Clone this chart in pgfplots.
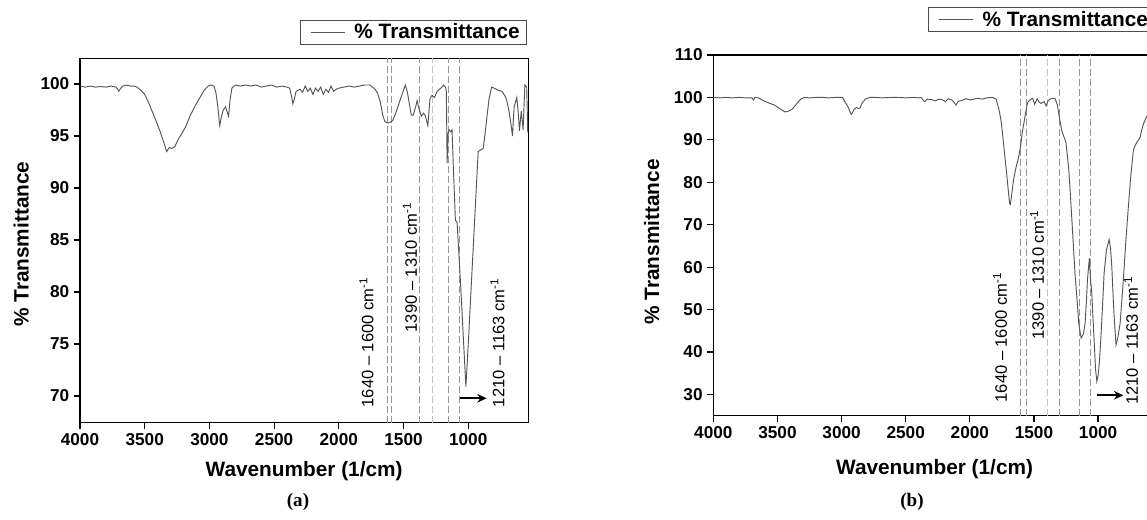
\documentclass[border=0pt]{standalone}
\usepackage{pgfplots}
\pgfplotsset{compat=1.18}
\usetikzlibrary{arrows.meta}
\usepackage{fontspec}
\setmainfont{Liberation Sans}
\newfontfamily\capfont{Liberation Serif}
\definecolor{spec}{RGB}{85,85,85}
\definecolor{dashA}{RGB}{150,150,150}
\definecolor{dashB}{RGB}{195,195,195}

\tikzset{annot/.style={rotate=90, inner sep=0pt, font=\fontsize{12.4}{14}\selectfont}}

\pgfplotsset{
 irstyle/.style={
  scale only axis,
  x dir=reverse,
  xmin=536, xmax=4000,
  xtick={1000,1500,...,4000},
  axis line style={line width=1pt},
  tick style={black, line width=0.9pt},
  tick align=outside,
  tick pos=left,
  major tick length=4.5pt,
  minor tick num=0,
  /pgf/number format/1000 sep={},
  /pgf/number format/assume math mode=true,
  ticklabel style={font=\fontsize{12.9}{15}\selectfont\bfseries},
  xlabel={Wavenumber (1/cm)},
  ylabel={\% Transmittance},
  legend style={draw=black!70, line width=0.6pt, font=\fontsize{15.6}{18}\selectfont\bfseries, inner xsep=3pt, inner ysep=0.5pt, legend cell align=left,
    /tikz/every odd column/.append style={column sep=5pt}},
  legend image code/.code={\path (0pt,0pt); \draw[#1, line width=0.7pt] (4.5pt,0pt) -- (30pt,0pt);},
 },
 dashl/.style={dash pattern=on 5pt off 2.5pt, line width=0.8pt, forget plot},
 arr/.style={-{Stealth[length=7pt,width=6.5pt]}, line width=1.6pt, black, forget plot},
}

\begin{document}
\begin{tikzpicture}
\useasboundingbox (0,0) rectangle (860.25pt,-390pt);

% ---------------- (a) ----------------
\begin{axis}[irstyle,
  at={(60pt,-43.725pt)}, anchor=north west,
  width=336.2pt, height=273.3pt,
  ymin=67.43, ymax=102.47,
  ytick={70,75,...,100},
  every axis x label/.style={at={(axis description cs:0.5,-0.134)}, anchor=center, font=\fontsize{15.6}{18}\selectfont\bfseries},
  every axis y label/.style={at={(axis description cs:-0.131,0.49)}, rotate=90, anchor=center, font=\fontsize{15.6}{18}\selectfont\bfseries},
  legend style={at={(0.9967,1.105)}, anchor=north east},
]
\addplot[dashA, dashl] coordinates {(1626,67.43) (1626,102.47)};
\addplot[dashA, dashl] coordinates {(1592,67.43) (1592,102.47)};
\addplot[dashA, dashl] coordinates {(1378,67.43) (1378,102.47)};
\addplot[dashB, dashl] coordinates {(1278,67.43) (1278,102.47)};
\addplot[dashA, dashl] coordinates {(1154,67.43) (1154,102.47)};
\addplot[dashA, dashl] coordinates {(1064,67.43) (1064,102.47)};

\addplot[spec, line width=0.7pt] coordinates {
(4000,99.8) (3960,99.7) (3920,99.8) (3880,99.7) (3840,99.75) (3800,99.7) (3760,99.8) (3720,99.7)
(3700,99.3) (3690,99.5) (3670,99.8) (3640,99.9) (3610,99.8) (3580,99.8) (3560,99.7) (3530,99.4)
(3500,99.0) (3470,98.2) (3440,97.3) (3410,96.4) (3380,95.4) (3350,94.3) (3330,93.5) (3310,93.9)
(3290,93.8) (3266,94.0) (3240,94.7) (3210,95.3) (3183,95.9) (3150,96.9) (3110,97.9) (3073,98.7)
(3040,99.4) (3010,99.8) (2990,99.9) (2965,99.8) (2950,99.2) (2935,97.8) (2920,96.0) (2908,96.8)
(2893,97.5) (2875,97.8) (2860,97.2) (2852,96.9) (2840,98.5) (2826,99.6) (2800,99.9) (2760,99.8)
(2720,99.9) (2680,99.8) (2640,99.9) (2600,99.7) (2560,99.8) (2520,99.9) (2480,99.7) (2440,99.8)
(2400,99.7) (2380,99.6) (2365,98.8) (2355,98.1) (2345,98.5) (2330,99.3) (2300,99.5) (2280,99.2)
(2260,99.8) (2240,99.3) (2220,99.6) (2200,99.0) (2180,99.6) (2160,99.3) (2140,99.7) (2120,99.0)
(2100,99.5) (2080,99.2) (2060,99.8) (2040,99.3) (2020,99.5) (2000,99.6) (1960,99.7) (1920,99.8)
(1880,99.7) (1840,99.8) (1800,99.9) (1760,99.9) (1740,99.7) (1720,99.5) (1700,99.1) (1680,98.3)
(1660,97.0) (1645,96.4) (1626,96.25) (1605,96.3) (1583,96.5) (1560,97.2) (1528,98.4) (1500,99.4)
(1486,99.9) (1470,99.2) (1459,98.4) (1440,97.0) (1425,97.0) (1404,97.9) (1395,98.4) (1380,97.6)
(1362,96.9) (1345,97.2) (1330,96.9) (1312,96.0) (1295,98.6) (1280,98.9) (1260,98.7) (1240,99.3)
(1211,99.6) (1190,99.9) (1175,99.7) (1169,99.3) (1163,92.4) (1155,95.2) (1147,95.6) (1134,95.4)
(1125,95.6) (1115,92.0) (1099,86.9) (1086,86.7) (1060,81.0) (1031,74.0) (1018,70.9) (1000,74.9)
(974,81.2) (950,87.0) (923,93.5) (900,93.7) (884,93.8) (870,95.2) (858,96.5) (840,98.5) (819,99.7)
(800,99.6) (769,99.4) (740,99.3) (713,98.8) (700,98.3) (685,97.4) (670,96.2) (658,95.0) (650,96.8)
(645,97.8) (625,98.7) (615,97.5) (604,95.5) (590,97.4) (576,95.6) (562,99.9) (548,99.7) (540,95.4) (537,95.4)
};
\addlegendentry{\% Transmittance}

\node[annot] at (axis cs:1786,75.14) {1640 – 1600 cm\textsuperscript{-1}};
\node[annot] at (axis cs:1450,82.36) {1390 – 1310 cm\textsuperscript{-1}};
\node[annot] at (axis cs:774,75.1) {1210 – 1163 cm\textsuperscript{-1}};
\addplot[arr] coordinates {(1064,69.78) (858,69.78)};
\end{axis}

% ---------------- (b) ----------------
\begin{axis}[irstyle,
  at={(535pt,-41.25pt)}, anchor=north west,
  width=333.2pt, height=270.5pt,
  ymin=25, ymax=110,
  ytick={30,40,...,110},
  every axis x label/.style={at={(axis description cs:0.498,-0.149)}, anchor=center, font=\fontsize{15.6}{18}\selectfont\bfseries},
  every axis y label/.style={at={(axis description cs:-0.139,0.4816)}, rotate=90, anchor=center, font=\fontsize{15.6}{18}\selectfont\bfseries},
  legend style={at={(0.4833,1.132)}, anchor=north west},
]
\addplot[dashA, dashl] coordinates {(1606,25) (1606,110)};
\addplot[dashA, dashl] coordinates {(1559,25) (1559,110)};
\addplot[dashB, dashl] coordinates {(1398,25) (1398,110)};
\addplot[dashA, dashl] coordinates {(1302,25) (1302,110)};
\addplot[dashA, dashl] coordinates {(1143,25) (1143,110)};
\addplot[dashA, dashl] coordinates {(1060,25) (1060,110)};

\addplot[spec, line width=0.7pt] coordinates {
(4000,100.0) (3950,99.9) (3900,100.0) (3850,99.9) (3800,100.0) (3750,99.9) (3700,99.9) (3687,99.4)
(3675,100.0) (3650,99.9) (3630,99.6) (3600,99.1) (3560,98.6) (3523,98.2) (3480,97.3) (3442,96.6)
(3420,96.7) (3387,97.2) (3350,98.5) (3319,99.6) (3290,100.0) (3250,99.9) (3200,100.0) (3150,100.0)
(3100,99.9) (3050,100.0) (2992,100.0) (2979,99.2) (2950,97.8) (2925,96.0) (2919,96.2) (2900,97.3)
(2883,97.6) (2870,97.4) (2856,97.5) (2840,98.7) (2815,99.6) (2780,100.0) (2733,100.0) (2680,99.9)
(2620,100.0) (2560,100.0) (2500,99.9) (2440,100.0) (2400,99.9) (2380,100.0) (2360,99.2) (2352,99.0)
(2330,99.6) (2300,99.5) (2270,99.2) (2240,99.6) (2210,99.4) (2190,99.0) (2170,99.7) (2140,99.4)
(2120,98.7) (2108,98.2) (2090,99.1) (2060,99.3) (2030,99.7) (2000,99.4) (1970,99.6) (1940,99.8)
(1900,99.6) (1870,99.9) (1823,100.0) (1795,99.6) (1770,96.8) (1754,94.0) (1735,88.5) (1713,82.1)
(1700,78.0) (1690,75.0) (1684,74.8) (1672,77.5) (1659,80.6) (1640,83.5) (1624,85.3) (1608,87.8)
(1591,91.7) (1570,95.5) (1550,98.8) (1530,99.4) (1510,99.8) (1495,98.4) (1475,99.7) (1460,98.9)
(1445,98.6) (1420,99.0) (1405,98.0) (1390,99.2) (1374,99.6) (1350,99.8) (1335,99.7) (1318,98.3)
(1300,95.0) (1283,92.2) (1265,90.6) (1251,89.5) (1244,87.5) (1230,83.5) (1218,78.1) (1205,71.5)
(1192,64.8) (1180,58.5) (1166,53.1) (1150,46.5) (1132,43.3) (1115,44.2) (1101,46.8) (1090,52.5)
(1083,57.0) (1068,62.1) (1060,57.5) (1049,53.9) (1040,48.0) (1031,42.9) (1020,36.0) (1010,33.1)
(1000,34.5) (990,37.5) (979,42.9) (965,51.0) (953,58.6) (935,64.0) (914,66.5) (903,64.5)
(893,60.1) (884,54.0) (875,48.4) (860,41.7) (845,43.5) (828,46.8) (803,57.0) (785,65.5)
(764,74.2) (745,81.5) (725,87.5) (712,88.6) (698,89.4) (685,90.0) (672,90.6) (660,92.3)
(647,93.7) (630,94.9) (618,95.7) (600,97.0) (580,98.5) (560,99.3) (536,99.6)
};
\addlegendentry{\% Transmittance}

\node[annot] at (axis cs:1764,43.4) {1640 – 1600 cm\textsuperscript{-1}};
\node[annot] at (axis cs:1476,58.2) {1390 – 1310 cm\textsuperscript{-1}};
\node[annot] at (axis cs:743,42.7) {1210 – 1163 cm\textsuperscript{-1}};
\addplot[arr] coordinates {(1007,29.8) (804,29.8)};
\end{axis}

\node[font=\capfont\bfseries\fontsize{14.3}{16}\selectfont] at (223.5pt,-376.5pt) {(a)};
\node[font=\capfont\bfseries\fontsize{14.3}{16}\selectfont] at (684pt,-376.5pt) {(b)};
\end{tikzpicture}
\end{document}
